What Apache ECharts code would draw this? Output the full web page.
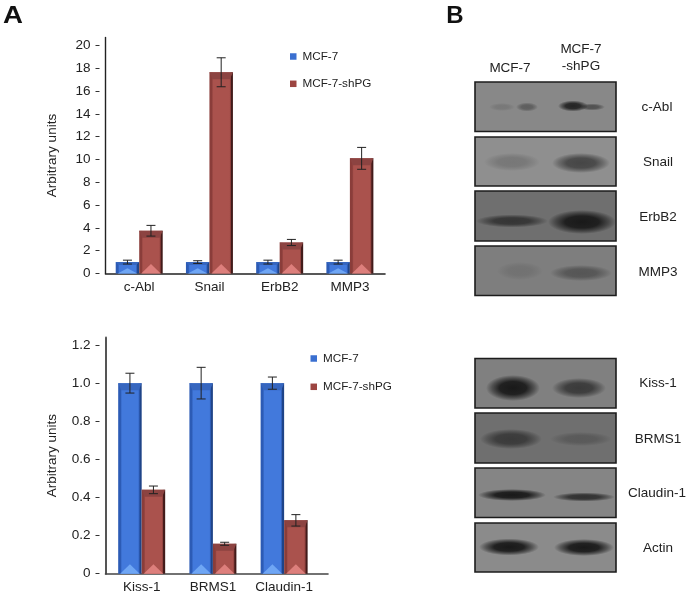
<!DOCTYPE html>
<html><head><meta charset="utf-8">
<style>html,body{margin:0;padding:0;background:#fff}#c{width:689px;height:595px}</style>
<script src="https://cdn.jsdelivr.net/npm/echarts@6/dist/echarts.min.js"></script>
</head><body><div id="c"></div>
<script>
const upperCategories = ['c-Abl', 'Snail', 'ErbB2', 'MMP3'];
const upperControl = [1, 1, 1, 1];
const upperControlErr = [0.17, 0.12, 0.17, 0.17];
const upperKnockdown = [3.75, 17.65, 2.72, 10.1];
const upperKnockdownErr = [0.47, 1.27, 0.27, 0.96];
const upperTicks = [0, 2, 4, 6, 8, 10, 12, 14, 16, 18, 20];

const lowerCategories = ['Kiss-1', 'BRMS1', 'Claudin-1'];
const lowerControl = [1, 1, 1];
const lowerControlErr = [0.052, 0.083, 0.032];
const lowerKnockdown = [0.44, 0.157, 0.28];
const lowerKnockdownErr = [0.02, 0.008, 0.03];
const lowerTicks = [0, 0.2, 0.4, 0.6, 0.8, 1.0, 1.2];

const seriesNames = ['MCF-7', 'MCF-7-shPG'];
const yTitle = 'Arbitrary units';
const blotLanes = ['MCF-7', 'MCF-7\n-shPG'];
const blotTargets = ['c-Abl', 'Snail', 'ErbB2', 'MMP3', 'Kiss-1', 'BRMS1', 'Claudin-1', 'Actin'];

const FONT = '"Liberation Sans", Arial, sans-serif';
const TXT = '#222';
const BAR_W = 23.5;
const palette = [
  { mid: '#4279dc', edge: '#2c5bb5', dark: '#1f4488', top: '#3666bf', light: '#6fa6f4', legend: '#3a6fd0' },
  { mid: '#aa524d', edge: '#8a3d3a', dark: '#421b1a', top: '#8c4341', light: '#dd7f7c', legend: '#9c4541' }
];

function barRenderer(side) {
  const p = palette[side];
  return function (params, api) {
    const x = api.value(0), v = api.value(1), e = api.value(2);
    const base = api.coord([x, 0]);
    const top = api.coord([x, v]);
    const up = api.coord([x, v + e]);
    const lo = api.coord([x, Math.max(v - e, 0)]);
    const x0 = base[0] + (side === 0 ? -BAR_W : 0);
    const x1 = x0 + BAR_W;
    const cx = (x0 + x1) / 2;
    const h = base[1] - top[1];
    const triH = Math.min(9.5, h * 0.45);
    const bevel = Math.min(7, h * 0.25);
    const capHalf = 4.5;
    const stroke = { stroke: '#222', lineWidth: 1, fill: null };
    return {
      type: 'group',
      children: [
        { type: 'rect', shape: { x: x0, y: top[1], width: BAR_W, height: h },
          style: { fill: new echarts.graphic.LinearGradient(0, 0, 1, 0, [
            { offset: 0, color: p.edge }, { offset: 0.1, color: p.edge },
            { offset: 0.16, color: p.mid }, { offset: 0.85, color: p.mid },
            { offset: 0.9, color: p.edge }, { offset: 0.93, color: p.dark }, { offset: 1, color: p.dark }
          ]) } },
        { type: 'polygon', shape: { points: [[x0, top[1]], [x1, top[1]], [x1 - 3, top[1] + bevel], [x0 + 3, top[1] + bevel]] },
          style: { fill: p.top } },
        { type: 'polygon', shape: { points: [[x0 + 2, base[1]], [cx, base[1] - triH], [x1 - 2, base[1]]] },
          style: { fill: p.light } },
        { type: 'line', shape: { x1: cx, y1: up[1], x2: cx, y2: lo[1] }, style: stroke },
        { type: 'line', shape: { x1: cx - capHalf, y1: up[1], x2: cx + capHalf, y2: up[1] }, style: stroke },
        { type: 'line', shape: { x1: cx - capHalf, y1: lo[1], x2: cx + capHalf, y2: lo[1] }, style: stroke }
      ]
    };
  };
}
function barSeries(side, gi, vals, errs) {
  return {
    type: 'custom', name: seriesNames[side], xAxisIndex: gi, yAxisIndex: gi * 2,
    renderItem: barRenderer(side), clip: false,
    itemStyle: { color: palette[side].legend },
    encode: { x: 0, y: 1 },
    data: vals.map((v, i) => [i, v, errs[i]])
  };
}
function xAxis(gi, cats, min, max, axisColor) {
  const idx = cats.map((_, i) => i);
  return {
    type: 'value', gridIndex: gi, min, max, splitLine: { show: false },
    axisLine: { show: true, onZero: false, lineStyle: { color: axisColor, width: 1.6 } },
    axisTick: { show: false },
    axisLabel: { customValues: idx, formatter: v => cats[Math.round(v)], color: TXT, fontFamily: FONT, fontSize: 13.5, margin: 7 }
  };
}
function yAxes(gi, ticks, max, fmt, axisColor, axisWidth) {
  return [
    { type: 'value', gridIndex: gi, min: 0, max, splitLine: { show: false },
      name: yTitle, nameLocation: 'middle', nameGap: 46, nameRotate: 90,
      nameTextStyle: { color: TXT, fontFamily: FONT, fontSize: 13.5 },
      axisLine: { show: true, onZero: false, lineStyle: { color: axisColor, width: axisWidth } },
      axisTick: { show: false },
      axisLabel: { customValues: ticks, formatter: fmt, color: TXT, fontFamily: FONT, fontSize: 13.5, margin: 15 } },
    { type: 'value', gridIndex: gi, min: 0, max, position: 'left', offset: 6, splitLine: { show: false },
      axisLine: { show: false, onZero: false },
      axisTick: { show: true, length: 4, customValues: ticks, lineStyle: { color: '#333', width: 1 } },
      axisLabel: { show: false } }
  ];
}
function legend(left, top, gap) {
  return {
    orient: 'vertical', left, top, itemWidth: 6.5, itemHeight: 6.5, itemGap: gap, icon: 'rect',
    data: seriesNames, selectedMode: false,
    textStyle: { color: TXT, fontFamily: FONT, fontSize: 11.7, padding: [0, 0, 0, 1] }, padding: 0
  };
}

/* Panel B is a photograph in the source; these only paint its look. */
const panelFrame = { x: 475, w: 141 };
const panelRows = [[82, 49.5, '#888888'], [137, 49, '#8f8f8f'], [191, 50, '#6f6f6f'], [246, 49.5, '#7e7e7e'],
                   [358.5, 49.5, '#808080'], [413, 50, '#6f6f6f'], [468, 49.5, '#858585'], [523, 49, '#8b8b8b']];
const labelCentres = [[657, 107], [658, 162], [658, 217], [658, 272], [658, 383], [658, 439], [657, 493], [658, 548]];
const bands = [
  [502, 107, 13, 4, .14], [527, 107, 11, 4.5, .38], [573, 106, 15, 5.5, .9], [592, 107, 13, 3.5, .5],
  [512, 162, 28, 9, .2], [581, 163, 29, 10, .62],
  [512, 221, 36, 6.5, .68], [582, 222, 34, 12, 1],
  [520, 271, 23, 9, .12], [581, 273, 31, 8, .4],
  [513, 388, 27, 13, 1], [579, 388, 27, 10, .68],
  [511, 439, 31, 10, .62], [581, 439, 31, 7, .25],
  [512, 495, 34, 6, 1], [584, 497, 31, 4.5, .78],
  [509, 547, 30, 8.5, 1], [584, 547.5, 30, 8.5, 1]
];
const graphics = [];
panelRows.forEach(r => graphics.push({ type: 'rect', silent: true,
  shape: { x: panelFrame.x, y: r[0], width: panelFrame.w, height: r[1] },
  style: { fill: r[2], stroke: '#1c1c1c', lineWidth: 1.6 }, z: 1 }));
bands.forEach(b => graphics.push({ type: 'circle', silent: true, x: b[0], y: b[1], scaleX: b[2], scaleY: b[3],
  shape: { cx: 0, cy: 0, r: 1 },
  style: { fill: new echarts.graphic.RadialGradient(0.5, 0.5, 0.5, [
    { offset: 0, color: `rgba(25,25,25,${b[4]})` },
    { offset: 0.5, color: `rgba(25,25,25,${b[4] * 0.92})` },
    { offset: 0.78, color: `rgba(25,25,25,${b[4] * 0.45})` },
    { offset: 1, color: 'rgba(25,25,25,0)' }]) }, z: 2 }));
function label(text, x, y, size, bold, lh, sx) {
  graphics.push({ type: 'text', silent: true, x, y, scaleX: sx || 1, z: 3, style: {
    text, fill: bold ? '#111' : TXT, align: 'center', verticalAlign: 'middle', lineHeight: lh || size * 1.2,
    font: `${bold ? 'bold ' : ''}${size}px "Liberation Sans", Arial, sans-serif` } });
}
blotTargets.forEach((t, i) => label(t, labelCentres[i][0], labelCentres[i][1], 13.5));
label(blotLanes[0], 510, 68, 13.5);
label(blotLanes[1], 581, 57.5, 13.5, false, 17);
label('A', 13, 16, 24, true, 0, 1.15);
label('B', 455, 16, 24, true);

const option = {
  animation: false,
  backgroundColor: '#fff',
  grid: [
    { left: 105.5, top: 37.5, width: 279.5, height: 236 },
    { left: 105.5, top: 337.5, width: 222.5, height: 236.2 }
  ],
  xAxis: [xAxis(0, upperCategories, -0.48, 3.5, '#222'), xAxis(1, lowerCategories, -0.508, 2.616, '#444')],
  yAxis: [
    ...yAxes(0, upperTicks, 20.7, v => String(v), '#222', 1.4),
    ...yAxes(1, lowerTicks, 1.2395, v => v === 0 ? '0' : v.toFixed(1), '#555', 2)
  ],
  legend: [legend(290, 50.5, 15.3), legend(310.5, 352.5, 16.3)],
  series: [
    barSeries(0, 0, upperControl, upperControlErr),
    barSeries(1, 0, upperKnockdown, upperKnockdownErr),
    barSeries(0, 1, lowerControl, lowerControlErr),
    barSeries(1, 1, lowerKnockdown, lowerKnockdownErr)
  ],
  graphic: { elements: graphics }
};
const chart = echarts.init(document.getElementById('c'), null, { renderer: 'canvas', width: 689, height: 595 });
chart.setOption(option);
</script></body></html>
